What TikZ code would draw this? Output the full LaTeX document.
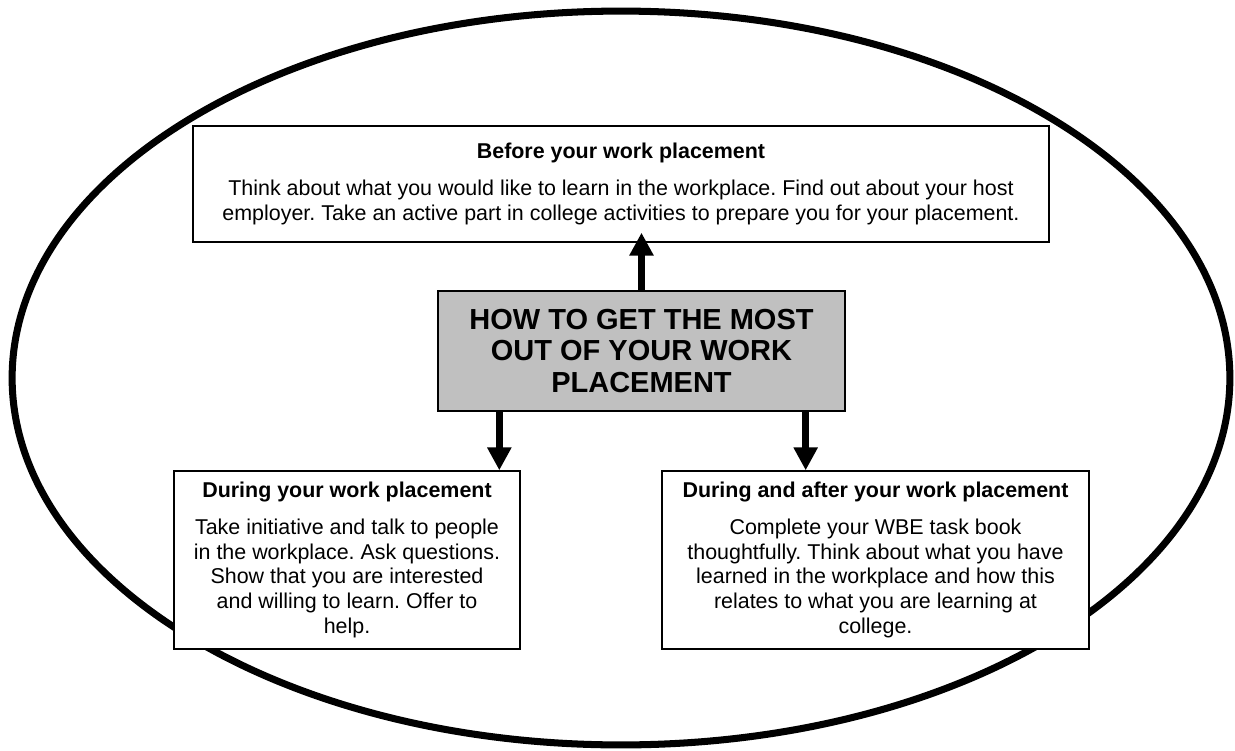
\documentclass[tikz,border=0pt]{standalone}
\usepackage{fontspec}
\setmainfont{Liberation Sans}
\usetikzlibrary{arrows.meta, positioning, shapes.geometric}
\definecolor{boxgray}{HTML}{C0C0C0}
\frenchspacing

\begin{document}
\begin{tikzpicture}[x=0.02cm, y=-0.02cm, box/.style={draw, fill=white, line width=.8pt, align=center, inner sep=0pt, font=\fontsize{12.2}{14}\selectfont}, flow/.style={-{Triangle[width=13pt, length=13pt]}, line width=4pt}]
  \useasboundingbox (0,0) rectangle (1235,751);

  \node[draw, ellipse, line width=4pt, minimum width=24.36cm, minimum height=14.68cm] (ring) at (621,378) {};

  \node[box, minimum width=17.12cm, minimum height=2.32cm] (before) at (621,184) {{\bfseries Before your work placement}\\[7pt]
    Think about what you would like to learn in the workplace. Find out about your host\\
    employer. Take an active part in college activities to prepare you for your placement.};
  \node[box, fill=boxgray, minimum width=8.14cm, minimum height=2.4cm, font=\fontsize{16.5}{18.2}\selectfont\bfseries] (howto) at (641.5,351) {HOW TO GET THE MOST\\ OUT OF YOUR WORK\\ PLACEMENT};
  \node[box, minimum width=6.92cm, minimum height=3.56cm] (during) at (347,560) {{\bfseries During your work placement}\\[7pt]
    Take initiative and talk to people\\ in the workplace. Ask questions.\\ Show that you are interested\\ and willing to learn. Offer to\\ help.};
  \node[box, minimum width=8.54cm, minimum height=3.56cm] (after) at (875.5,560) {{\bfseries During and after your work placement}\\[7pt]
    Complete your WBE task book\\ thoughtfully. Think about what you have\\ learned in the workplace and how this\\ relates to what you are learning at\\ college.};

  \draw[flow, shorten >=-5.7pt] (howto.north) -- (howto.north |- before.south);
  \draw[flow] ([xshift=1.24cm]howto.south west) -- ([xshift=1.24cm]howto.south west |- during.north);
  \draw[flow] ([xshift=-0.8cm]howto.south east) -- ([xshift=-0.8cm]howto.south east |- after.north);
\end{tikzpicture}
\end{document}
